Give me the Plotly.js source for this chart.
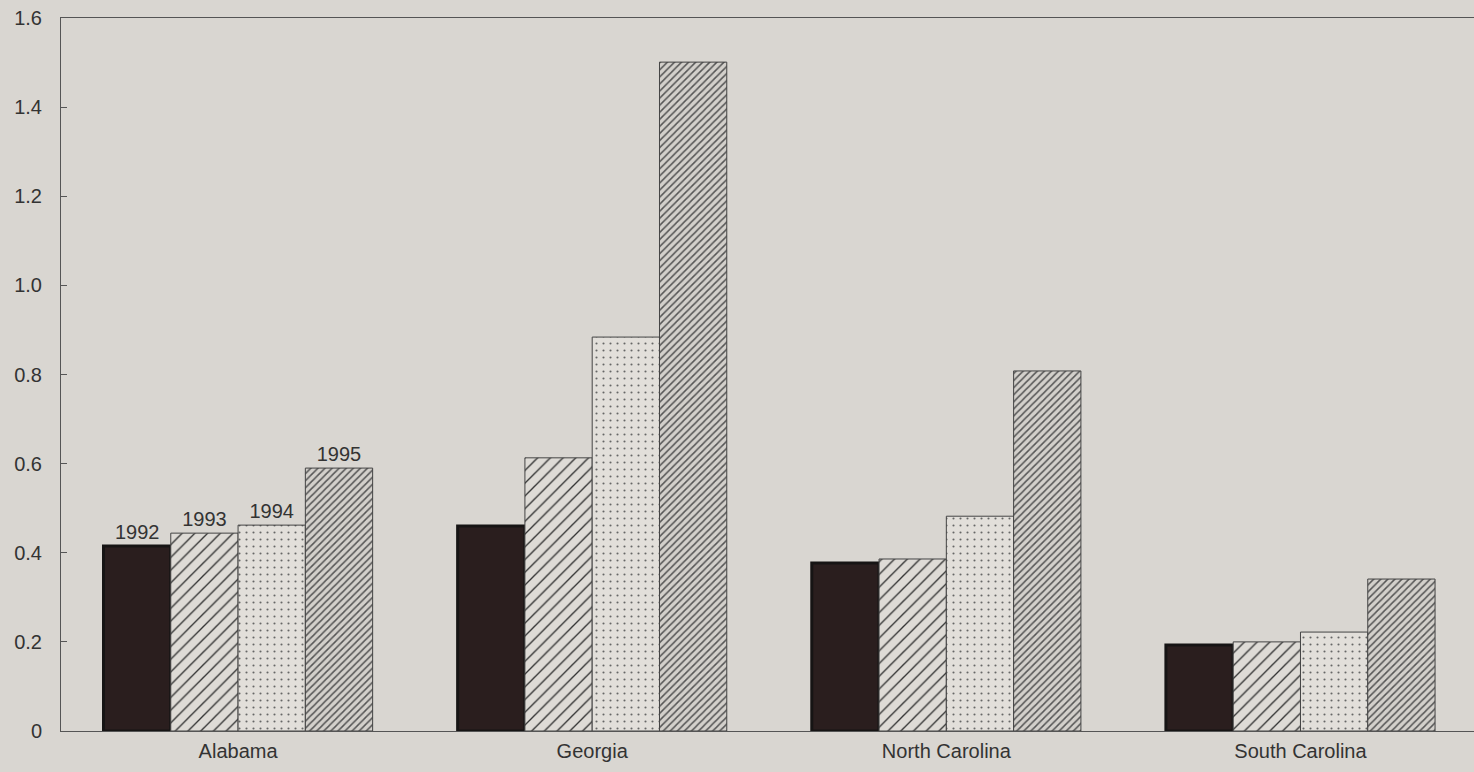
<!DOCTYPE html>
<html><head><meta charset="utf-8">
<script src="https://cdn.plot.ly/plotly-3.0.1.min.js"></script>
<style>html,body{margin:0;padding:0;background:#d9d6d1;}#c{width:1474px;height:772px;}</style>
</head><body><div id="c"></div>
<script>
const states = ["Alabama", "Georgia", "North Carolina", "South Carolina"];
const years = ["1992", "1993", "1994", "1995"];
const v1992 = [0.415, 0.46, 0.377, 0.193];
const v1993 = [0.444, 0.613, 0.386, 0.200];
const v1994 = [0.462, 0.884, 0.482, 0.222];
const v1995 = [0.590, 1.501, 0.808, 0.341];
const yTicks = [0, 0.2, 0.4, 0.6, 0.8, 1.0, 1.2, 1.4, 1.6];
const yTickText = ["0", "0.2", "0.4", "0.6", "0.8", "1.0", "1.2", "1.4", "1.6"];

const series = [v1992, v1993, v1994, v1995];
const styles = [
  {color: "#2a1e1e", line: {color: "#161414", width: 3}},
  {color: "#dcd9d4", line: {color: "#444", width: 1}, pattern: {shape: "/", size: 9, solidity: 0.15, fgcolor: "#333", bgcolor: "#dedbd6", fillmode: "replace"}},
  {color: "#e0ddd8", line: {color: "#444", width: 1}, pattern: {shape: ".", size: 7, solidity: 0.07, fgcolor: "#666", bgcolor: "#e2dfda", fillmode: "replace"}},
  {color: "#bdbab6", line: {color: "#444", width: 1}, pattern: {shape: "/", size: 5, solidity: 0.3, fgcolor: "#555", bgcolor: "#d3d0cb", fillmode: "replace"}}
];

const traces = series.map((vals, i) => ({
  type: "bar",
  name: years[i],
  x: states,
  y: vals,
  marker: styles[i],
  text: states.map((s, j) => j === 0 ? years[i] : ""),
  textposition: "outside",
  cliponaxis: false,
  textfont: {family: "Liberation Sans, Arial, sans-serif", size: 20, color: "#333"},
  hoverinfo: "skip"
}));

const layout = {
  width: 1474, height: 772,
  paper_bgcolor: "#d9d6d1",
  plot_bgcolor: "#d9d6d1",
  margin: {l: 61, r: 0, t: 18, b: 41},
  barmode: "group",
  bargap: 0.24,
  bargroupgap: 0,
  showlegend: false,
  uniformtext: {mode: false},
  font: {family: "Liberation Sans, Arial, sans-serif", size: 20, color: "#333"},
  xaxis: {
    type: "category",
    range: [-0.5, 3.49],
    showline: true, linecolor: "#555", linewidth: 1, mirror: true,
    ticks: "", showgrid: false, zeroline: false,
    tickfont: {size: 20, color: "#333"},
    ticklabelstandoff: 2
  },
  yaxis: {
    range: [0, 1.6],
    tickvals: yTicks, ticktext: yTickText,
    showline: true, linecolor: "#555", linewidth: 1, mirror: false,
    ticks: "inside", ticklen: 6, tickcolor: "#555",
    showgrid: false, zeroline: false,
    tickfont: {size: 20, color: "#333"},
    ticklabelstandoff: 14
  }
};

Plotly.newPlot("c", traces, layout, {displayModeBar: false, staticPlot: true});
</script>
</body></html>
